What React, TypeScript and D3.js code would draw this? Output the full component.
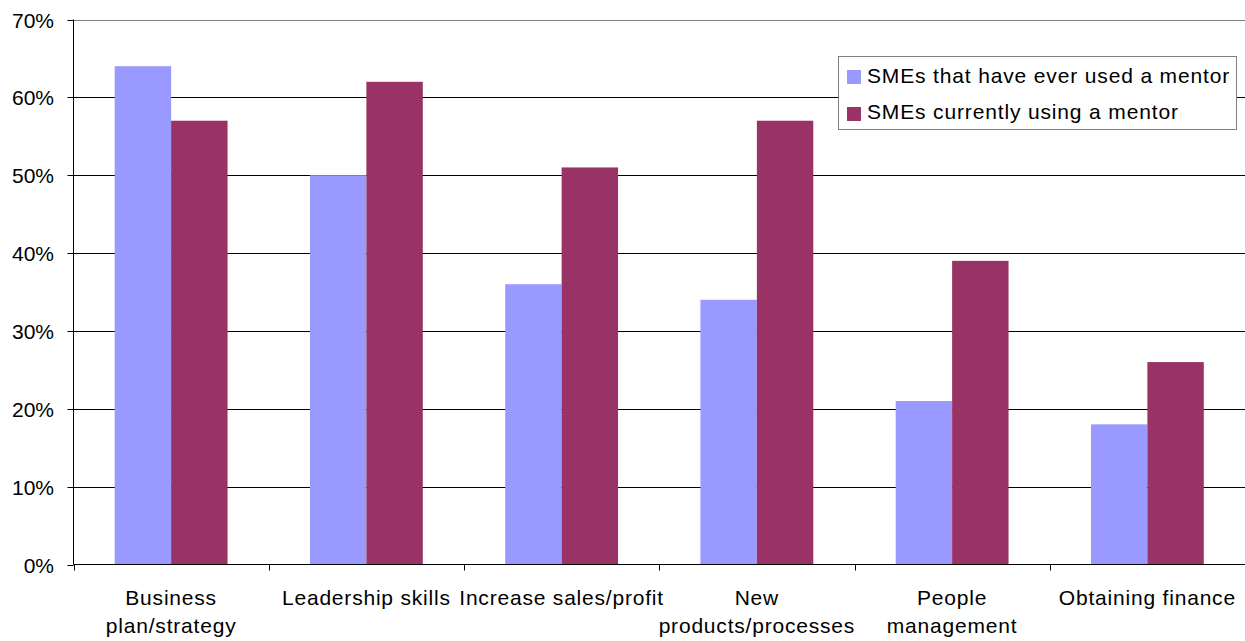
import React from "react";
import * as d3 from "d3";

const categories: string[][] = [
  ["Business", "plan/strategy"],
  ["Leadership skills"],
  ["Increase sales/profit"],
  ["New", "products/processes"],
  ["People", "management"],
  ["Obtaining finance"],
];
const everUsed = [64, 50, 36, 34, 21, 18];
const currentlyUsing = [57, 62, 51, 57, 39, 26];
const seriesNames = ["SMEs that have ever used a mentor", "SMEs currently using a mentor"];
const seriesColors = ["#9999FF", "#993366"];
const yTicks = [0, 10, 20, 30, 40, 50, 60, 70];

const W = 1245;
const H = 641;
const left = 73.5;
const right = 1245;
const top = 19.5;
const bottom = 564.5;
const font = "'Liberation Sans', Arial, sans-serif";

export default function App() {
  const x = d3.scaleBand<number>().domain(d3.range(categories.length)).range([left, right]).padding(0);
  const y = d3.scaleLinear().domain([0, 70]).range([bottom, top]);
  const band = x.bandwidth();
  const bw = band * 0.289;
  const series = [everUsed, currentlyUsing];

  return (
    <svg width={W} height={H} style={{ position: "absolute", left: 0, top: 0 }} fontFamily={font}>
      <rect width={W} height={H} fill="#fff" />
      {yTicks.map((t) => (
        <g key={t}>
          {t > 0 && (
            <line x1={left} x2={right} y1={Math.round(y(t)) + 0.5} y2={Math.round(y(t)) + 0.5} stroke={t === 70 ? "#808080" : "#000"} strokeWidth={1} />
          )}
          <line x1={left - 6} x2={left} y1={Math.round(y(t)) + 0.5} y2={Math.round(y(t)) + 0.5} stroke="#000" />
          <text x={54} y={Math.round(y(t)) + 0.5} dy="0.36em" textAnchor="end" fontSize={21} fill="#000">
            {t}%
          </text>
        </g>
      ))}
      {categories.map((c, i) => {
        const cx = (x(i) as number) + band / 2;
        return (
          <g key={i}>
            {series.map((s, j) => (
              <rect
                key={j}
                x={cx - bw + j * bw}
                y={y(s[i])}
                width={bw}
                height={bottom - y(s[i])}
                fill={seriesColors[j]}
              />
            ))}
          </g>
        );
      })}
      <line x1={left} x2={left} y1={top} y2={bottom} stroke="#000" />
      <line x1={left} x2={right} y1={bottom} y2={bottom} stroke="#000" />
      {d3.range(categories.length + 1).map((i) => {
        const tx = Math.round(left + band * i) + 0.5;
        return <line key={i} x1={tx} x2={tx} y1={bottom} y2={bottom + 6} stroke="#000" />;
      })}
      {categories.map((c, i) => {
        const cx = (x(i) as number) + band / 2;
        return (
          <text key={i} textAnchor="middle" fontSize={21} fill="#000" letterSpacing={0.8}>
            {c.map((line, k) => (
              <tspan key={k} x={cx} y={605 + k * 28}>
                {line}
              </tspan>
            ))}
          </text>
        );
      })}
      <g>
        <rect x={838.5} y={56.5} width={398} height={73} fill="#fff" stroke="#808080" />
        {seriesNames.map((n, j) => (
          <g key={j}>
            <rect x={847} y={70 + j * 37} width={14} height={14} fill={seriesColors[j]} />
            <text x={867} y={83 + j * 36} fontSize={21} fill="#000" letterSpacing={0.85}>
              {n}
            </text>
          </g>
        ))}
      </g>
    </svg>
  );
}
